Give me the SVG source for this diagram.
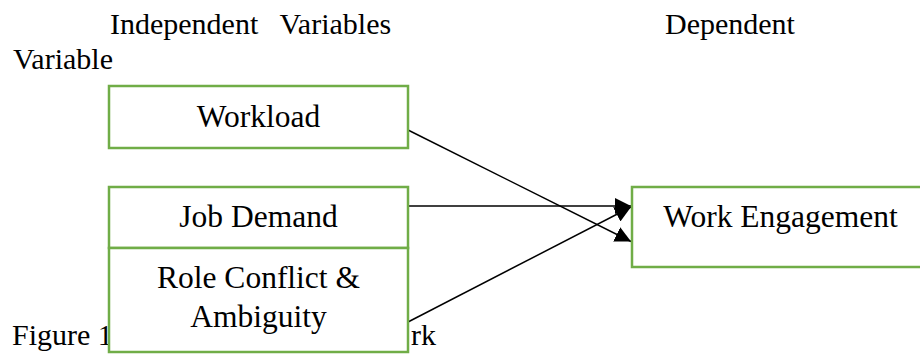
<svg xmlns="http://www.w3.org/2000/svg" width="920" height="354" viewBox="0 0 920 354" font-family="'Liberation Serif', 'Times New Roman', serif">
  <style>
    .hdr { font-size: 30px; fill: #000; }
    .lbl { font-size: 31.5px; text-anchor: middle; fill: #000; }
    .box { fill: #ffffff; stroke: #70AD47; stroke-width: 2.5; }
    .conn { stroke: #000; stroke-width: 1.5; fill: none; marker-end: url(#arrow); }
  </style>
  <defs>
    <marker id="arrow" markerUnits="userSpaceOnUse" markerWidth="16" markerHeight="16" refX="16" refY="8" orient="auto" viewBox="0 0 16 16">
      <path d="M0,0 L16,8 L0,16 z" fill="#000"/>
    </marker>
  </defs>
  <rect width="920" height="354" fill="#ffffff"/>

  <g id="headers" font-family="Liberation Serif, serif">
    <text class="hdr" x="110" y="34" word-spacing="14.3">Independent Variables</text>
    <text class="hdr" x="665" y="34">Dependent</text>
    <text class="hdr" x="13" y="69">Variable</text>
  </g>

  <g id="caption" font-family="Liberation Serif, serif">
    <text class="hdr" x="12" y="345">Figure 1</text>
    <text class="hdr" x="411" y="345">rk</text>
  </g>

  <g id="connectors">
    <line class="conn" x1="408" y1="130" x2="631" y2="241.5"/>
    <line class="conn" x1="408" y1="206" x2="631" y2="206"/>
    <line class="conn" x1="408" y1="322" x2="631" y2="207"/>
  </g>

  <g id="workload" font-family="Liberation Serif, serif">
    <rect class="box" x="109" y="86" width="299" height="62"/>
    <text class="lbl" x="258.5" y="127">Workload</text>
  </g>

  <g id="job-demand" font-family="Liberation Serif, serif">
    <rect class="box" x="109" y="187" width="299" height="61"/>
    <text class="lbl" x="258.5" y="227">Job Demand</text>
  </g>

  <g id="role-conflict" font-family="Liberation Serif, serif">
    <rect class="box" x="109" y="248" width="299" height="104"/>
    <text class="lbl" x="258.5" y="288">Role Conflict &amp;</text>
    <text class="lbl" x="258.5" y="327">Ambiguity</text>
  </g>

  <g id="work-engagement" font-family="Liberation Serif, serif">
    <rect class="box" x="632" y="187" width="297" height="80"/>
    <text class="lbl" x="780.5" y="227">Work Engagement</text>
  </g>
</svg>
